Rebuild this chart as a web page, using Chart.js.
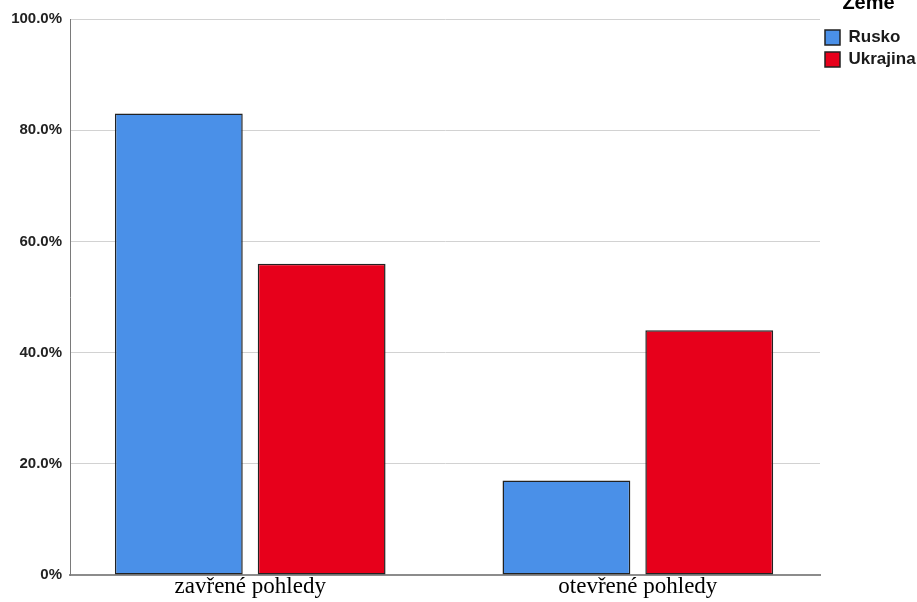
<!DOCTYPE html>
<html>
<head>
<meta charset="utf-8">
<script src="https://cdn.jsdelivr.net/npm/chart.js@4.4.1/dist/chart.umd.min.js"></script>
<style>
  html, body { margin: 0; padding: 0; background: #fff; overflow: hidden; }
  #wrap { position: relative; width: 917px; height: 609px; margin-top: -7px; }
</style>
</head>
<body>
<div id="wrap"><canvas id="chart"></canvas></div>
<script>
// categories and series (percent)
var categories = ["zavřené pohledy", "otevřené pohledy"];
var rusko = [83.0, 17.0];
var ukrajina = [56.0, 44.0];
var seriesNames = ["Rusko", "Ukrajina"];
var legendTitle = "Země";

function toPoints(values) {
    return values.map(function(v, i) { return { x: i, y: v }; });
}

var sans = "'Liberation Sans', Arial, sans-serif";

var chart = new Chart(document.getElementById("chart"), {
    type: 'bar',
    data: {
        datasets: [
            { label: seriesNames[0], data: toPoints(rusko), backgroundColor: "#4A90E8",
              borderColor: "#222", borderWidth: 1.5, borderSkipped: false },
            { label: seriesNames[1], data: toPoints(ukrajina), backgroundColor: "#E7001B",
              borderColor: "#222", borderWidth: 1.5, borderSkipped: false }
        ]
    },
    options: {
        responsive: true,
        maintainAspectRatio: false,
        animation: false,
        layout: { padding: 0 },
        categoryPercentage: 0.737,
        barPercentage: 0.895,
        plugins: {
            tooltip: { enabled: false },
            legend: {
                position: 'right',
                align: 'start',
                maxWidth: 97,
                title: {
                    display: true,
                    text: legendTitle,
                    color: "#000",
                    font: { family: sans, size: 20, weight: 'bold' },
                    padding: { top: 0, bottom: 7 }
                },
                labels: {
                    boxWidth: 15,
                    boxHeight: 15,
                    padding: 5,
                    color: "#1a1a1a",
                    font: { family: sans, size: 17, weight: 'bold' }
                }
            }
        },
        scales: {
            x: {
                type: 'linear',
                offset: false,
                min: -0.465,
                max: 1.47,
                grid: { display: false, drawTicks: false },
                border: { display: true, color: "#8c8c8c", width: 2 },
                afterBuildTicks: function(scale) {
                    scale.ticks = categories.map(function(c, i) { return { value: i }; });
                },
                afterFit: function(scale) { scale.height = 27; },
                ticks: {
                    padding: 0,
                    color: "#000",
                    maxRotation: 0,
                    font: { family: "'Liberation Serif', 'Times New Roman', serif", size: 23, lineHeight: 1 },
                    callback: function(v) { return categories[v]; }
                }
            },
            y: {
                min: 0,
                max: 100,
                grid: { color: "#d2d2d2", lineWidth: 1, drawTicks: false },
                border: { display: true, color: "#7a7a7a", width: 1 },
                afterFit: function(scale) { scale.width = 70; scale.paddingTop = 26; },
                ticks: {
                    stepSize: 20,
                    padding: 8,
                    color: "#222",
                    font: { family: sans, size: 15, weight: 'bold' },
                    callback: function(v) { return v === 0 ? "0%" : v.toFixed(1) + "%"; }
                }
            }
        }
    }
});
</script>
</body>
</html>
